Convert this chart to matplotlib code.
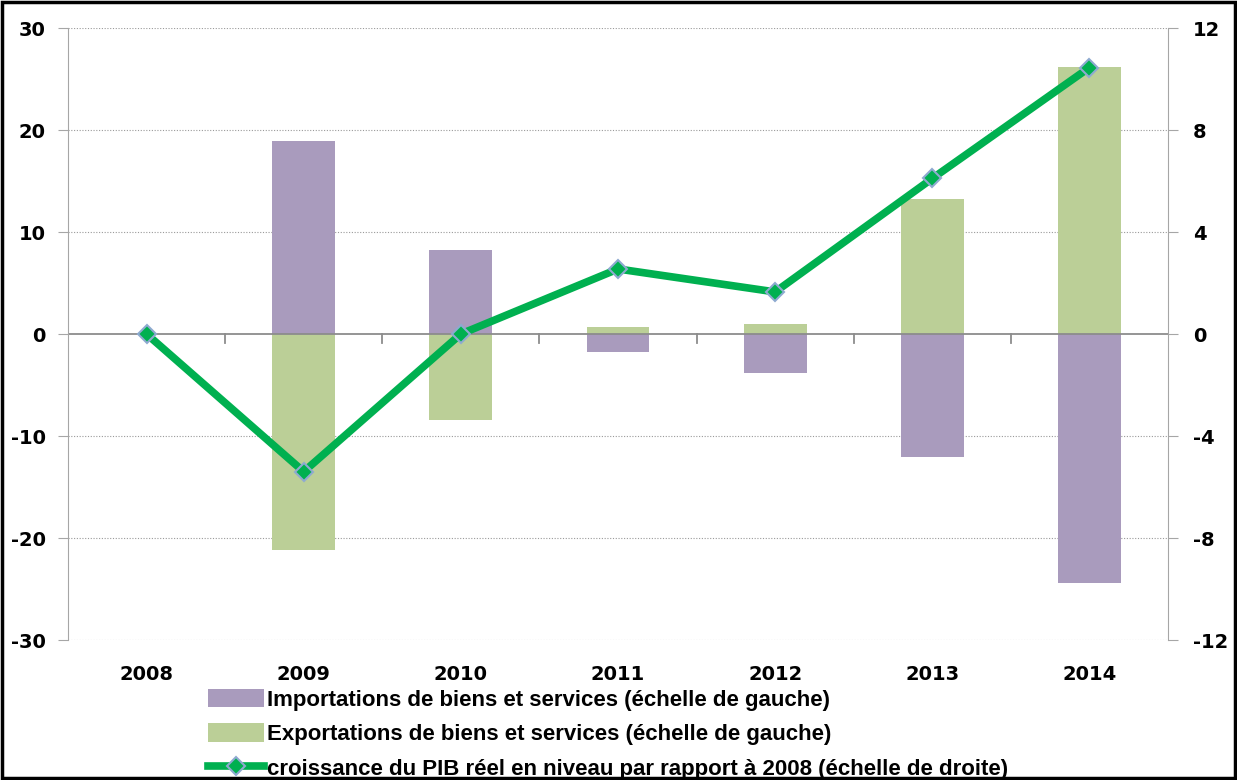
import matplotlib

matplotlib.use("Agg")

import matplotlib.pyplot as plt
from matplotlib.patches import Rectangle

# data
years = ["2008", "2009", "2010", "2011", "2012", "2013", "2014"]
imports = [0.0, 18.9, 8.2, -1.8, -3.8, -12.1, -24.4]
exports = [0.0, -21.2, -8.4, 0.7, 1.0, 13.2, 26.2]
pib_growth = [0.0, -5.4, 0.0, 2.55, 1.65, 6.1, 10.45]

left_ticks = [-30, -20, -10, 0, 10, 20, 30]
right_ticks = [-12, -8, -4, 0, 4, 8, 12]

label_imp = "Importations de biens et services (échelle de gauche)"
label_exp = "Exportations de biens et services (échelle de gauche)"
label_pib = "croissance du PIB réel en niveau par rapport à 2008 (échelle de droite)"

PURPLE = "#a99bbd"
GREEN_BAR = "#bbcf97"
GREEN_LINE = "#00b050"
AXIS_GREY = "#a6a6a6"

plt.rcParams["font.family"] = ["DejaVu Sans"]
plt.rcParams["axes.unicode_minus"] = False

fig = plt.figure(figsize=(12.37, 7.8), dpi=100)
ax = fig.add_axes([68 / 1237, 1 - 640 / 780, 1100 / 1237, 612 / 780])
ax2 = ax.twinx()

x = list(range(len(years)))
ax.bar(x, imports, width=0.4, color=PURPLE, label=label_imp, zorder=2)
ax.bar(x, exports, width=0.4, color=GREEN_BAR, label=label_exp, zorder=2)

ax2.plot(x, pib_growth, color=GREEN_LINE, lw=5.5, marker="D", markersize=9,
         markerfacecolor=GREEN_LINE, markeredgecolor="#8eaad0", markeredgewidth=1.5,
         label=label_pib, zorder=3)

ax.set_xlim(-0.5, len(years) - 0.5)
ax.set_ylim(-30, 30)
ax2.set_ylim(-12, 12)
ax.set_yticks(left_ticks)
ax2.set_yticks(right_ticks)

# dotted gridlines, solid zero axis
for t in left_ticks:
    if t != 0:
        ax.axhline(t, color="#9a9a9a", lw=0.8, ls=(0, (1, 1.5)), zorder=1)
ax.axhline(0, color="#8c8c8c", lw=1.3, zorder=2.5)

# category separator ticks on the zero line
for b in range(1, len(years)):
    ax.plot([b - 0.5, b - 0.5], [0, -0.9], color="#8c8c8c", lw=1.3, zorder=2.5,
            clip_on=False)

for a in (ax, ax2):
    for side in ("top", "bottom"):
        a.spines[side].set_visible(False)
ax.spines["left"].set_color(AXIS_GREY)
ax.spines["right"].set_visible(False)
ax2.spines["left"].set_visible(False)
ax2.spines["right"].set_color(AXIS_GREY)

ax.tick_params(axis="y", direction="out", length=7, color=AXIS_GREY, pad=9,
               labelsize=14)
ax2.tick_params(axis="y", direction="out", length=7, color=AXIS_GREY, pad=11,
                labelsize=14)
for lab in ax.get_yticklabels() + ax2.get_yticklabels():
    lab.set_fontweight("bold")

ax.set_xticks(x)
ax.set_xticklabels(years, fontsize=14, fontweight="bold")
ax.tick_params(axis="x", length=0, pad=18)

handles = [ax.containers[0], ax.containers[1], ax2.get_lines()[0]]
fig.legend(handles, [label_imp, label_exp, label_pib], loc="upper left",
           bbox_to_anchor=(208 / 1237, 1 - 689 / 780), frameon=False,
           prop={"family": "Liberation Sans", "size": 16, "weight": "bold"},
           handlelength=2.5, handleheight=0.9, handletextpad=0.15, labelspacing=0.56,
           borderpad=0, borderaxespad=0)

fig.patches.append(Rectangle((0.002, 0.003), 0.996, 0.994, transform=fig.transFigure,
                             fill=False, edgecolor="black", lw=2.5))

fig.savefig("out.png", dpi=100)
plt.close(fig)
